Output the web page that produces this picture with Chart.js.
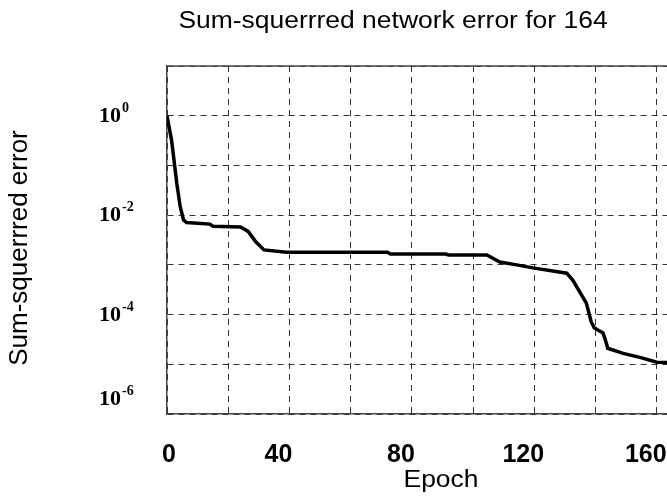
<!DOCTYPE html>
<html>
<head>
<meta charset="utf-8">
<script src="https://cdn.jsdelivr.net/npm/chart.js@4/dist/chart.umd.min.js"></script>
<style>
    body { margin: 0; background: #fff; overflow: hidden; }
    #wrap { width: 667px; height: 496px; overflow: hidden; }
</style>
</head>
<body>
<div id="wrap"><canvas id="myChart" width="680" height="496"></canvas></div>
<script>
// data
var epochs = [0, 1.5, 3.2, 4.3, 5.4, 6.4, 14, 15, 24, 26.5, 29, 31.7, 39, 72, 73, 91, 92, 104.5, 108.7,
    114.3, 119.5, 130.6, 132.6, 137, 138.6, 139.6, 141, 142.4, 143, 144, 149, 154.5, 160, 164];
var errors = [1.0, 0.32, 0.044, 0.015, 0.0080, 0.0071, 0.0066, 0.0060, 0.0058, 0.0047, 0.0029, 0.0020, 0.0018,
    0.0018, 0.00165, 0.00165, 0.00158, 0.00158, 0.00114, 0.0010, 0.00087, 0.00068, 0.00049, 0.00017,
    0.000071, 0.000054, 0.000048, 0.000043, 0.000034, 0.000021, 0.0000166, 0.0000138, 0.000011, 0.0000108];

var xGrid = [0, 20, 40, 60, 80, 100, 120, 140, 160];
var xTickLabels = [0, 40, 80, 120, 160];
var yGrid = [1e-6, 1e-5, 1e-4, 1e-3, 1e-2, 1e-1, 1, 10];
var yLabelExps = [0, -2, -4, -6];

var titleText = 'Sum-squerrred network error for 164';
var xTitle = 'Epoch';
var yTitle = 'Sum-squerrred error';

var points = epochs.map(function (e, i) {
    return { x: e, y: errors[i] };
});

// wide sans text, like the reference
function wideText(ctx, text, x, y) {
    ctx.save();
    ctx.translate(x, y);
    ctx.scale(1.15, 1);
    ctx.fillText(text, 0, 0);
    ctx.restore();
}

var textPlugin = {
    id: 'texts',
    afterDraw: function (chart) {
        var ctx = chart.ctx;
        var area = chart.chartArea;
        var xs = chart.scales.x;
        var ys = chart.scales.y;
        ctx.save();

        // top frame line
        ctx.strokeStyle = '#444';
        ctx.lineWidth = 1.5;
        ctx.beginPath();
        ctx.moveTo(area.left, area.top);
        ctx.lineTo(area.right, area.top);
        ctx.stroke();

        ctx.fillStyle = '#000';
        ctx.textBaseline = 'alphabetic';

        ctx.font = '23px "Liberation Sans", Arial, sans-serif';
        ctx.textAlign = 'center';
        wideText(ctx, titleText, 393, 28);
        wideText(ctx, xTitle, 441, 487);

        // x tick labels
        ctx.font = 'bold 25px "Liberation Sans", Arial, sans-serif';
        xTickLabels.forEach(function (v) {
            var px = xs.getPixelForValue(v) + (v === 0 ? 2 : -11);
            ctx.fillText(String(v), px, 462);
        });

        // y tick labels, 10 with superscript exponent
        ctx.textAlign = 'left';
        yLabelExps.forEach(function (e) {
            var py = ys.getPixelForValue(Math.pow(10, e));
            var base = Math.min(py + 6, area.bottom - 9);
            ctx.font = 'bold 22px "Liberation Serif", "Times New Roman", serif';
            ctx.fillText('10', 99, base);
            var w = ctx.measureText('10').width;
            ctx.font = 'bold 14px "Liberation Serif", "Times New Roman", serif';
            ctx.fillText(String(e), 99 + w + 1, base - 10);
        });

        // y title
        ctx.font = '26px "Liberation Sans", Arial, sans-serif';
        ctx.textAlign = 'center';
        ctx.translate(27, 248);
        ctx.rotate(-Math.PI / 2);
        ctx.fillText(yTitle, 0, 0);

        ctx.restore();
    }
};

var ctx = document.getElementById('myChart');
var myChart = new Chart(ctx, {
    type: 'line',
    data: {
        datasets: [{
            data: points,
            borderColor: '#000',
            borderWidth: 3.5,
            pointRadius: 0,
            tension: 0,
            fill: false
        }]
    },
    options: {
        responsive: false,
        animation: false,
        layout: {
            padding: { top: 66, right: 11, left: 0, bottom: 0 }
        },
        plugins: {
            legend: { display: false },
            tooltip: { enabled: false }
        },
        scales: {
            x: {
                type: 'linear',
                min: 0,
                max: 164,
                afterBuildTicks: function (s) {
                    s.ticks = xGrid.map(function (v) { return { value: v }; });
                },
                afterFit: function (s) {
                    s.height = 82;
                    s.paddingLeft = 0;
                    s.paddingRight = 0;
                },
                ticks: { display: false },
                grid: { color: '#333', lineWidth: 1, drawTicks: false },
                border: { color: '#444', width: 1.5, dash: [6, 5] }
            },
            y: {
                type: 'logarithmic',
                min: 1e-6,
                max: 10,
                afterBuildTicks: function (s) {
                    s.ticks = yGrid.map(function (v) { return { value: v }; });
                },
                afterFit: function (s) {
                    s.width = 167;
                },
                ticks: { display: false },
                grid: { color: '#333', lineWidth: 1, drawTicks: false },
                border: { color: '#444', width: 1.5, dash: [6, 5] }
            }
        }
    },
    plugins: [textPlugin]
});
</script>
</body>
</html>
